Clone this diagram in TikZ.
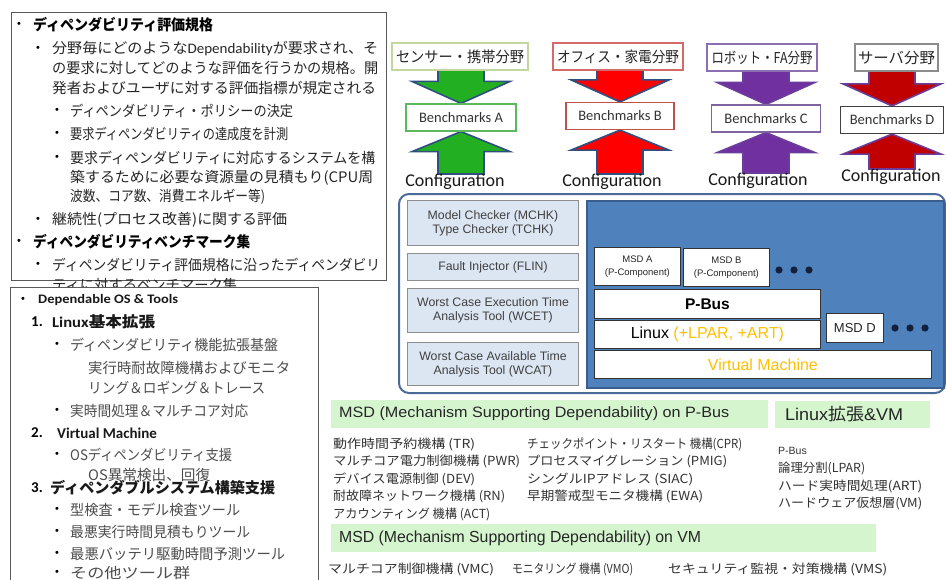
\documentclass[tikz,border=0pt]{standalone}
\usepackage{fontspec}
\usepackage{graphicx}
\setmainfont{Liberation Sans}
\newfontfamily\jp{Noto Sans CJK JP}
\newfontfamily\calfont{Carlito}
\usetikzlibrary{backgrounds,calc}
\newcommand\fitw[2]{\resizebox{#1pt}{\height}{#2}}
\definecolor{armA}{HTML}{22B022}
\definecolor{armline}{HTML}{2F4F80}
\definecolor{redB}{HTML}{FF0000}
\definecolor{purC}{HTML}{7030A0}
\definecolor{redD}{HTML}{C00000}
\definecolor{purline}{HTML}{6A3D9A}
\definecolor{domA}{HTML}{C3D69B}
\definecolor{domB}{HTML}{D46A6A}
\definecolor{domC}{HTML}{8C6FB0}
\definecolor{domD}{HTML}{8C8C8C}
\definecolor{benA}{HTML}{5CB85C}
\definecolor{benB}{HTML}{C0504D}
\definecolor{benC}{HTML}{7F64A2}
\definecolor{benD}{HTML}{404040}
\definecolor{toolfill}{HTML}{DCE6F2}
\definecolor{toolline}{HTML}{8E8E8E}
\definecolor{platline}{HTML}{4A6A99}
\definecolor{panel}{HTML}{4F81BD}
\definecolor{panelline}{HTML}{3A5F8F}
\definecolor{amber}{HTML}{FFC000}
\definecolor{banner}{HTML}{D5F5CF}
\definecolor{dotc}{HTML}{14213D}
\definecolor{txtgray}{HTML}{4D4D4D}
\tikzset{
  frame/.style={draw=black!65, line width=1.2pt, fill=white, anchor=north west, inner sep=0},
  jtxt/.style={anchor=west, inner sep=0, text=black!85, font=\jp\fontsize{14.5}{16}\selectfont},
  jhead/.style={anchor=west, inner sep=0, text=black, font=\jp\bfseries\fontsize{15}{17}\selectfont},
  gtxt/.style={jtxt, text=txtgray},
  bul/.style={anchor=west, inner sep=0, font=\fontsize{11}{11}\selectfont},
  num/.style={anchor=west, inner sep=0, font=\calfont\bfseries\fontsize{15}{17}\selectfont},
  dombox/.style={draw=#1, line width=1.2pt, fill=white, inner sep=0, font=\jp\fontsize{15}{17}\selectfont, text=black!85},
  benbox/.style={draw=#1, line width=1.2pt, fill=white, inner sep=0, minimum height=27, font=\calfont\fontsize{14.5}{16}\selectfont, text=black!80},
  cfg/.style={inner sep=0, font=\calfont\fontsize{18}{20}\selectfont, text=black!90},
  toolbox/.style={draw=toolline, line width=1pt, fill=toolfill, anchor=north west, inner sep=0, align=center, font=\fontsize{12.3}{14}\selectfont, text=black!75},
  whitebox/.style={draw=black!80, line width=0.8pt, fill=white, anchor=north west, inner sep=0, align=center},
  bannerbox/.style={fill=banner, anchor=north west, inner sep=0},
  ltxt/.style={anchor=west, inner sep=0, text=black!80, font=\jp\fontsize{12.5}{14}\selectfont},
  blockarrow/.style={line width=1.6pt, line join=miter},
}
\newcommand\blockdown[4]{%
  \draw[blockarrow, fill=#3, draw=#4] let \p1=(#1.south), \p2=(#2.north) in
   (\x2-23pt,\y1+2pt) -- (\x2+23pt,\y1+2pt) -- (\x2+23pt,\y2+22pt) -- (\x2+49pt,\y2+22pt)
   -- (\x2,\y2) -- (\x2-49pt,\y2+22pt) -- (\x2-23pt,\y2+22pt) -- cycle;}
\newcommand\blockup[4]{%
  \draw[blockarrow, fill=#3, draw=#4] let \p1=(#1.north), \p2=(#2.south) in
   (\x2-23pt,\y1) -- (\x2+23pt,\y1) -- (\x2+23pt,\y2-20pt) -- (\x2+49pt,\y2-20pt)
   -- (\x2,\y2) -- (\x2-49pt,\y2-20pt) -- (\x2-23pt,\y2-20pt) -- cycle;}
\begin{document}
\begin{tikzpicture}[x=1pt,y=-1pt]
\useasboundingbox (0,0) rectangle (946,579);

% ---------- top-left box ----------
\node[frame, minimum width=375, minimum height=268] (specbox) at (11,12) {};
\node[bul] (sb1) at (17,25) {•};
\node[jhead] (sh1) at (33,25) {\fitw{180}{ディペンダビリティ評価規格}};
\node[bul] (sb2) at (36,49) {•};
\node[jtxt] (st1) at (52,49) {\fitw{326}{分野毎にどのような{\calfont Dependability}が要求され、そ}};
\node[jtxt] (st2) at (52,68) {\fitw{326}{の要求に対してどのような評価を行うかの規格。開}};
\node[jtxt] (st3) at (52,88) {\fitw{324}{発者およびユーザに対する評価指標が規定される}};
\node[bul] (sb3) at (55,111) {•};
\node[jtxt] (st4) at (70,111) {\fitw{223}{ディペンダビリティ・ポリシーの決定}};
\node[bul] (sb4) at (55,134) {•};
\node[jtxt] (st5) at (70,134) {\fitw{218}{要求ディペンダビリティの達成度を計測}};
\node[bul] (sb5) at (55,158) {•};
\node[jtxt] (st6) at (70,158) {\fitw{305}{要求ディペンダビリティに対応するシステムを構}};
\node[jtxt] (st7) at (70,178) {\fitw{303}{築するために必要な資源量の見積もり(CPU周}};
\node[jtxt] (st8) at (70,197) {\fitw{195}{波数、コア数、消費エネルギー等)}};
\node[bul] (sb6) at (36,220) {•};
\node[jtxt] (st9) at (52,220) {\fitw{235}{継続性(プロセス改善)に関する評価}};
\node[bul] (sb7) at (17,242) {•};
\node[jhead] (sh2) at (33,242) {\fitw{217}{ディペンダビリティベンチマーク集}};
\node[bul] (sb8) at (36,265) {•};
\node[jtxt] (st10) at (52,265) {\fitw{328}{ディペンダビリティ評価規格に沿ったディペンダビリ}};
\node[jtxt] (st11) at (52,285) {\fitw{185}{ティに対するベンチマーク集}};

% ---------- bottom-left box ----------
\node[frame, minimum width=308, minimum height=310] (osbox) at (10,287) {};
\node[bul] (ob1) at (21,300) {•};
\node[anchor=west, inner sep=0, font=\calfont\bfseries\fontsize{13}{15}\selectfont, text=black!90] (od1) at (38,300) {\fitw{140}{Dependable OS \& Tools}};
\node[num] (on1) at (31,322) {1.};
\node[anchor=west, inner sep=0, text=black!90, font=\jp\bfseries\fontsize{15}{17}\selectfont] (od2) at (52,322) {\fitw{103}{{\calfont Linux}基本拡張}};
\node[bul] (ob2) at (55,345) {•};
\node[gtxt] (od3) at (70,345) {\fitw{208}{ディペンダビリティ機能拡張基盤}};
\node[gtxt] (od4) at (88,368) {\fitw{202}{実行時耐故障機構およびモニタ}};
\node[gtxt] (od5) at (88,388) {\fitw{177}{リング＆ロギング＆トレース}};
\node[bul] (ob3) at (55,411) {•};
\node[gtxt] (od6) at (70,411) {\fitw{178}{実時間処理＆マルチコア対応}};
\node[num] (on2) at (31,433) {2.};
\node[num, text=black!90] (od7) at (57,433) {Virtual Machine};
\node[bul] (ob4) at (55,455) {•};
\node[gtxt] (od8) at (70,455) {\fitw{162}{OSディペンダビリティ支援}};
\node[gtxt] (od9) at (88,475) {\fitw{122}{OS異常検出、回復}};
\node[num] (on3) at (31,488) {3.};
\node[anchor=west, inner sep=0, text=black!90, font=\jp\bfseries\fontsize{15}{17}\selectfont] (od10) at (50,488) {\fitw{225}{ディペンダブルシステム構築支援}};
\node[bul] (ob5) at (55,510) {•};
\node[gtxt] (od11) at (70,510) {\fitw{170}{型検査・モデル検査ツール}};
\node[bul] (ob6) at (55,532) {•};
\node[gtxt] (od12) at (70,532) {\fitw{180}{最悪実行時間見積もりツール}};
\node[bul] (ob7) at (55,554) {•};
\node[gtxt] (od13) at (70,554) {\fitw{215}{最悪バッテリ駆動時間予測ツール}};
\node[bul] (ob8) at (55,573) {•};
\node[gtxt] (od14) at (70,573) {\fitw{120}{その他ツール群}};

% ---------- domains, benchmarks, configuration ----------
\node[dombox=domA, minimum width=136, minimum height=27] (domA) at (460,56.5) {\fitw{128}{センサー・携帯分野}};
\node[dombox=domB, minimum width=130, minimum height=27] (domB) at (618,56.5) {\fitw{122}{オフィス・家電分野}};
\node[dombox=domC, minimum width=110, minimum height=27] (domC) at (762,57.5) {\fitw{101}{ロボット・FA分野}};
\node[dombox=domD, minimum width=83, minimum height=27] (domD) at (896.5,57.5) {\fitw{77}{サーバ分野}};

\node[benbox=benA, minimum width=110] (benA) at (461,117.5) {Benchmarks A};
\node[benbox=benB, minimum width=108] (benB) at (620,116) {Benchmarks B};
\node[benbox=benC, minimum width=109] (benC) at (766,118.5) {Benchmarks C};
\node[benbox=benD, minimum width=103] (benD) at (892,120) {Benchmarks D};

\node[cfg] (cfgA) at (455,182) {Configuration};
\node[cfg] (cfgB) at (612,182) {Configuration};
\node[cfg] (cfgC) at (758,181) {Configuration};
\node[cfg] (cfgD) at (891,177) {Configuration};

\begin{pgfonlayer}{background}
  \fill[white] (0,0) rectangle (946,579);
  \blockdown{domA}{benA}{armA}{armline}
  \blockup{cfgA}{benA}{armA}{armline}
  \blockdown{domB}{benB}{redB}{armline}
  \blockup{cfgB}{benB}{redB}{armline}
  \blockdown{domC}{benC}{purC}{purline}
  \blockup{cfgC}{benC}{purC}{purline}
  \blockdown{domD}{benD}{redD}{purline}
  \blockup{cfgD}{benD}{redD}{purline}
\end{pgfonlayer}

% ---------- platform ----------
\node[draw=platline, line width=2pt, rounded corners=10, fill=white, anchor=north west, inner sep=0, minimum width=546, minimum height=199] (plat) at (398,193) {};
\node[toolbox, minimum width=171, minimum height=45] (mchk) at (407,200) {Model Checker (MCHK)\\Type Checker (TCHK)};
\node[toolbox, minimum width=171, minimum height=27] (flin) at (407,253) {Fault Injector (FLIN)};
\node[toolbox, minimum width=171, minimum height=44] (wcet) at (407,288) {Worst Case Execution Time\\Analysis Tool (WCET)};
\node[toolbox, minimum width=171, minimum height=43] (wcat) at (407,342) {Worst Case Available Time\\Analysis Tool (WCAT)};

\node[draw=panelline, line width=1.5pt, fill=panel, anchor=north west, inner sep=0, minimum width=357, minimum height=187] (panel) at (586,200) {};
\node[whitebox, minimum width=86, minimum height=38, font=\fontsize{9.5}{13}\selectfont, text=black!85] (msda) at (594,247) {MSD A\\(P-Component)};
\node[whitebox, minimum width=86, minimum height=38, font=\fontsize{9.5}{13}\selectfont, text=black!85] (msdb) at (683,248) {MSD B\\(P-Component)};
\node[whitebox, minimum width=226, minimum height=29, font=\bfseries\fontsize{15.5}{17}\selectfont] (pbus) at (594,289) {P-Bus};
\node[whitebox, minimum width=226, minimum height=28, font=\fontsize{16}{18}\selectfont] (linux) at (594,320) {Linux \textcolor{amber}{(+LPAR, +ART)}};
\node[whitebox, minimum width=57, minimum height=29, font=\fontsize{13}{15}\selectfont, text=black!85] (msdd) at (826,313) {MSD D};
\node[whitebox, minimum width=337, minimum height=28, font=\fontsize{16}{18}\selectfont, text=amber] (vm) at (594,350) {Virtual Machine};
\foreach \dx in {779,794,809} \fill[dotc] (\dx,270) circle (3.6);
\foreach \dx in {895,910,925} \fill[dotc] (\dx,328) circle (3.6);

% ---------- MSD lists ----------
\node[bannerbox, minimum width=437, minimum height=28] (ban1) at (331,400) {};
\node[anchor=west, inner sep=0, font=\fontsize{15}{17}\selectfont, text=black!85] (ban1t) at (339,414) {\fitw{390}{MSD (Mechanism Supporting Dependability) on P-Bus}};
\node[bannerbox, minimum width=155, minimum height=27] (ban3) at (775,401) {};
\node[anchor=west, inner sep=0, font=\fontsize{17}{19}\selectfont, text=black!85] (ban3t) at (785,414.5) {\fitw{118}{Linux{\jp 拡張}\&VM}};
\node[bannerbox, minimum width=545, minimum height=28] (ban2) at (331,524) {};
\node[anchor=west, inner sep=0, font=\fontsize{16}{18}\selectfont, text=black!85] (ban2t) at (339,538) {\fitw{362}{MSD (Mechanism Supporting Dependability) on VM}};

\node[ltxt] (m1) at (333,444) {\fitw{142}{動作時間予約機構 (TR)}};
\node[ltxt] (m2) at (333,461.5) {\fitw{187}{マルチコア電力制御機構 (PWR)}};
\node[ltxt] (m3) at (333,479) {\fitw{142}{デバイス電源制御 (DEV)}};
\node[ltxt] (m4) at (333,496.5) {\fitw{172}{耐故障ネットワーク機構 (RN)}};
\node[ltxt] (m5) at (333,514) {\fitw{157}{アカウンティング 機構 (ACT)}};
\node[ltxt] (m6) at (527,444) {\fitw{215}{チェックポイント・リスタート 機構(CPR)}};
\node[ltxt] (m7) at (527,461.5) {\fitw{200}{プロセスマイグレーション (PMIG)}};
\node[ltxt] (m8) at (527,479) {\fitw{166}{シングルIPアドレス (SIAC)}};
\node[ltxt] (m9) at (527,496.5) {\fitw{176}{早期警戒型モニタ機構 (EWA)}};
\node[ltxt, font=\fontsize{10.5}{12}\selectfont] (x1) at (778,451) {P-Bus};
\node[ltxt] (x2) at (778,468.5) {\fitw{87}{論理分割(LPAR)}};
\node[ltxt] (x3) at (778,486) {\fitw{144}{ハード実時間処理(ART)}};
\node[ltxt] (x4) at (778,503.5) {\fitw{144}{ハードウェア仮想層(VM)}};
\node[ltxt] (v1) at (328,569) {\fitw{166}{マルチコア制御機構 (VMC)}};
\node[ltxt] (v2) at (512,569) {\fitw{121}{モニタリング 機構 (VMO)}};
\node[ltxt] (v3) at (668,569) {\fitw{219}{セキュリティ監視・対策機構 (VMS)}};
\end{tikzpicture}
\end{document}
